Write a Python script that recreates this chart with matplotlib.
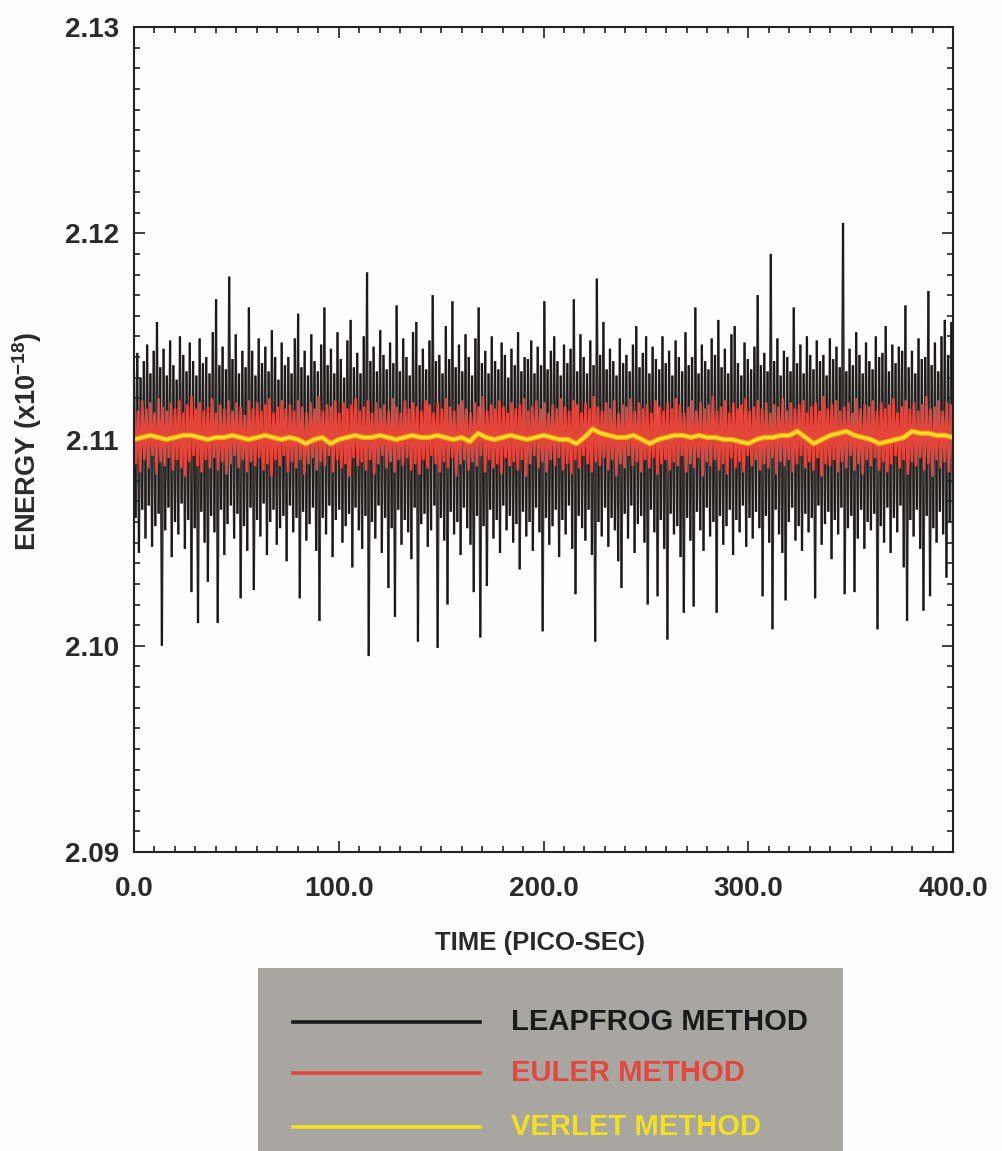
import numpy as np
import matplotlib
matplotlib.use("Agg")
import matplotlib.pyplot as plt
from matplotlib.patches import Rectangle
from matplotlib.lines import Line2D
from matplotlib.collections import LineCollection

plt.rcParams["font.family"] = ["Liberation Sans", "DejaVu Sans"]
plt.rcParams["font.weight"] = "bold"
plt.rcParams["mathtext.fontset"] = "custom"
plt.rcParams["mathtext.bf"] = "Liberation Sans:bold"
plt.rcParams["mathtext.rm"] = "Liberation Sans:bold"
plt.rcParams["mathtext.default"] = "bf"
# keep every vertex of the dense oscillating traces
plt.rcParams["path.simplify"] = False

# ---------------------------------------------------------------------------
# Total energy (x10^-18 J) over 0-400 ps for three integrators.
# Each oscillating trace is stored as its alternating upper / lower excursions.
# ---------------------------------------------------------------------------
leapfrog_high = [
    2.1133, 2.1142, 2.1130, 2.1138, 2.1146, 2.1132, 2.1143, 2.1157, 2.1135, 2.1144,
    2.1131, 2.1148, 2.1136, 2.1129, 2.1150, 2.1141, 2.1133, 2.1147, 2.1138, 2.1131,
    2.1149, 2.1137, 2.1140, 2.1132, 2.1152, 2.1168, 2.1136, 2.1145, 2.1134, 2.1179,
    2.1139, 2.1151, 2.1132, 2.1143, 2.1135, 2.1164, 2.1143, 2.1131, 2.1149, 2.1137,
    2.1145, 2.1133, 2.1153, 2.1140, 2.1129, 2.1147, 2.1136, 2.1140, 2.1132, 2.1149,
    2.1161, 2.1135, 2.1143, 2.1131, 2.1151, 2.1138, 2.1133, 2.1146, 2.1164, 2.1136,
    2.1144, 2.1132, 2.1152, 2.1139, 2.1130, 2.1148, 2.1158, 2.1135, 2.1142, 2.1132,
    2.1150, 2.1181, 2.1138, 2.1145, 2.1133, 2.1153, 2.1141, 2.1134, 2.1147, 2.1137,
    2.1165, 2.1133, 2.1149, 2.1140, 2.1131, 2.1152, 2.1157, 2.1136, 2.1144, 2.1134,
    2.1148, 2.1170, 2.1138, 2.1141, 2.1132, 2.1155, 2.1139, 2.1167, 2.1135, 2.1146,
    2.1133, 2.1151, 2.1140, 2.1131, 2.1149, 2.1164, 2.1137, 2.1143, 2.1132, 2.1150,
    2.1138, 2.1134, 2.1147, 2.1141, 2.1130, 2.1144, 2.1136, 2.1152, 2.1133, 2.1140,
    2.1139, 2.1148, 2.1132, 2.1145, 2.1136, 2.1167, 2.1134, 2.1143, 2.1150, 2.1138,
    2.1131, 2.1146, 2.1137, 2.1144, 2.1168, 2.1133, 2.1151, 2.1140, 2.1132, 2.1148,
    2.1136, 2.1178, 2.1141, 2.1157, 2.1134, 2.1144, 2.1138, 2.1131, 2.1149, 2.1137,
    2.1141, 2.1133, 2.1146, 2.1155, 2.1135, 2.1142, 2.1150, 2.1132, 2.1145, 2.1139,
    2.1134, 2.1150, 2.1137, 2.1143, 2.1131, 2.1148, 2.1140, 2.1133, 2.1152, 2.1136,
    2.1140, 2.1164, 2.1132, 2.1146, 2.1138, 2.1134, 2.1149, 2.1141, 2.1158, 2.1135,
    2.1144, 2.1132, 2.1151, 2.1155, 2.1137, 2.1131, 2.1147, 2.1139, 2.1134, 2.1145,
    2.1170, 2.1136, 2.1142, 2.1133, 2.1190, 2.1138, 2.1149, 2.1131, 2.1143, 2.1140,
    2.1133, 2.1164, 2.1137, 2.1146, 2.1132, 2.1150, 2.1141, 2.1134, 2.1148, 2.1138,
    2.1141, 2.1131, 2.1149, 2.1139, 2.1145, 2.1135, 2.1205, 2.1133, 2.1144, 2.1136,
    2.1152, 2.1141, 2.1132, 2.1147, 2.1138, 2.1134, 2.1150, 2.1140, 2.1142, 2.1155,
    2.1133, 2.1146, 2.1137, 2.1145, 2.1143, 2.1165, 2.1135, 2.1143, 2.1132, 2.1149,
    2.1139, 2.1140, 2.1172, 2.1136, 2.1147, 2.1133, 2.1150, 2.1158, 2.1141, 2.1157,
]
leapfrog_low = [
    2.1062, 2.1045, 2.1066, 2.1052, 2.1068, 2.1048, 2.1058, 2.1064, 2.1000, 2.1056,
    2.1067, 2.1043, 2.1060, 2.1054, 2.1069, 2.1047, 2.1061, 2.1026, 2.1057, 2.1011,
    2.1065, 2.1050, 2.1031, 2.1063, 2.1055, 2.1011, 2.1066, 2.1044, 2.1059, 2.1068,
    2.1052, 2.1064, 2.1023, 2.1058, 2.1046, 2.1067, 2.1027, 2.1061, 2.1053, 2.1069,
    2.1044, 2.1060, 2.1066, 2.1049, 2.1057, 2.1063, 2.1041, 2.1068, 2.1055, 2.1062,
    2.1023, 2.1065, 2.1051, 2.1059, 2.1067, 2.1046, 2.1012, 2.1062, 2.1054, 2.1068,
    2.1043, 2.1061, 2.1066, 2.1050, 2.1058, 2.1064, 2.1038, 2.1067, 2.1056, 2.1047,
    2.1063, 2.0995, 2.1060, 2.1052, 2.1068, 2.1045, 2.1062, 2.1028, 2.1057, 2.1014,
    2.1066, 2.1049, 2.1061, 2.1055, 2.1042, 2.1067, 2.1002, 2.1059, 2.1064, 2.1048,
    2.1056, 2.1068, 2.0999, 2.1062, 2.1051, 2.1020, 2.1065, 2.1054, 2.1060, 2.1044,
    2.1067, 2.1057, 2.1049, 2.1026, 2.1063, 2.1004, 2.1058, 2.1029, 2.1066, 2.1052,
    2.1061, 2.1045, 2.1068, 2.1056, 2.1063, 2.1050, 2.1059, 2.1037, 2.1065, 2.1053,
    2.1060, 2.1046, 2.1067, 2.1055, 2.1007, 2.1062, 2.1049, 2.1058, 2.1066, 2.1043,
    2.1061, 2.1054, 2.1068, 2.1047, 2.1025, 2.1063, 2.1057, 2.1051, 2.1066, 2.1044,
    2.1002, 2.1060, 2.1053, 2.1067, 2.1048, 2.1062, 2.1056, 2.1041, 2.1028, 2.1064,
    2.1052, 2.1068, 2.1045, 2.1059, 2.1063, 2.1050, 2.1020, 2.1066, 2.1055, 2.1024,
    2.1061, 2.1047, 2.1003, 2.1064, 2.1054, 2.1058, 2.1043, 2.1016, 2.1062, 2.1051,
    2.1019, 2.1065, 2.1056, 2.1046, 2.1067, 2.1053, 2.1060, 2.1016, 2.1063, 2.1049,
    2.1058, 2.1066, 2.1044, 2.1061, 2.1055, 2.1068, 2.1048, 2.1062, 2.1052, 2.1065,
    2.1057, 2.1024, 2.1063, 2.1050, 2.1008, 2.1066, 2.1054, 2.1045, 2.1022, 2.1060,
    2.1067, 2.1051, 2.1058, 2.1046, 2.1064, 2.1055, 2.1062, 2.1023, 2.1068, 2.1049,
    2.1059, 2.1065, 2.1042, 2.1061, 2.1054, 2.1067, 2.1025, 2.1057, 2.1063, 2.1026,
    2.1052, 2.1066, 2.1047, 2.1060, 2.1056, 2.1064, 2.1008, 2.1058, 2.1050, 2.1067,
    2.1045, 2.1062, 2.1055, 2.1068, 2.1038, 2.1012, 2.1061, 2.1053, 2.1066, 2.1047,
    2.1017, 2.1063, 2.1024, 2.1057, 2.1050, 2.1065, 2.1054, 2.1033, 2.1060, 2.1040,
]
euler_high = [
    2.1117, 2.1114, 2.1119, 2.1115, 2.1118, 2.1113, 2.1120, 2.1116, 2.1114, 2.1118,
    2.1115, 2.1119, 2.1113, 2.1117, 2.1121, 2.1115, 2.1118, 2.1114, 2.1116, 2.1120,
    2.1113, 2.1117, 2.1115, 2.1119, 2.1114, 2.1118, 2.1116, 2.1112, 2.1119, 2.1115,
    2.1118, 2.1114, 2.1117, 2.1120, 2.1113, 2.1116, 2.1119, 2.1115, 2.1117, 2.1114,
    2.1119, 2.1116, 2.1113, 2.1118, 2.1115, 2.1121, 2.1114, 2.1117, 2.1116, 2.1119,
    2.1113, 2.1118, 2.1115, 2.1117, 2.1120, 2.1114, 2.1116, 2.1119, 2.1113, 2.1118,
    2.1115, 2.1117, 2.1114, 2.1120, 2.1116, 2.1113, 2.1119, 2.1115, 2.1118, 2.1116,
    2.1114, 2.1119, 2.1117, 2.1113, 2.1118, 2.1115, 2.1120, 2.1116, 2.1114, 2.1117,
    2.1119, 2.1115, 2.1113, 2.1118, 2.1116, 2.1121, 2.1114, 2.1117, 2.1115, 2.1119,
    2.1116, 2.1113, 2.1118, 2.1115, 2.1117, 2.1120, 2.1114, 2.1116, 2.1119, 2.1115,
    2.1118, 2.1113, 2.1117, 2.1115, 2.1120, 2.1116, 2.1114, 2.1119, 2.1117, 2.1113,
    2.1118, 2.1115, 2.1121, 2.1116, 2.1114, 2.1118, 2.1115, 2.1119, 2.1113, 2.1117,
    2.1116, 2.1120, 2.1114, 2.1118, 2.1115, 2.1117, 2.1113, 2.1119, 2.1116, 2.1114,
    2.1118, 2.1115, 2.1120, 2.1117, 2.1113, 2.1116, 2.1119, 2.1114, 2.1118, 2.1115,
    2.1117, 2.1121, 2.1114, 2.1116, 2.1119, 2.1113, 2.1118, 2.1115, 2.1117, 2.1120,
    2.1114, 2.1116, 2.1119, 2.1115, 2.1118, 2.1113, 2.1117, 2.1116, 2.1120, 2.1114,
    2.1118, 2.1115, 2.1117, 2.1119, 2.1113, 2.1116, 2.1118, 2.1114, 2.1121, 2.1115,
    2.1117, 2.1119, 2.1114, 2.1116, 2.1118, 2.1113, 2.1120, 2.1115, 2.1117, 2.1116,
    2.1119, 2.1114, 2.1118, 2.1115, 2.1117, 2.1120, 2.1113, 2.1116, 2.1119, 2.1115,
    2.1118, 2.1114, 2.1117, 2.1121, 2.1115, 2.1116, 2.1119, 2.1114, 2.1118, 2.1117,
]
euler_low = [
    2.1088, 2.1084, 2.1090, 2.1086, 2.1092, 2.1083, 2.1089, 2.1087, 2.1091, 2.1085,
    2.1090, 2.1086, 2.1082, 2.1089, 2.1092, 2.1087, 2.1084, 2.1090, 2.1086, 2.1091,
    2.1085, 2.1089, 2.1083, 2.1088, 2.1092, 2.1086, 2.1090, 2.1084, 2.1089, 2.1087,
    2.1091, 2.1085, 2.1088, 2.1082, 2.1090, 2.1087, 2.1092, 2.1084, 2.1089, 2.1086,
    2.1090, 2.1083, 2.1088, 2.1091, 2.1085, 2.1089, 2.1087, 2.1092, 2.1084, 2.1090,
    2.1086, 2.1088, 2.1082, 2.1091, 2.1087, 2.1089, 2.1085, 2.1090, 2.1083, 2.1088,
    2.1092, 2.1086, 2.1089, 2.1084, 2.1090, 2.1087, 2.1091, 2.1085, 2.1088, 2.1083,
    2.1090, 2.1086, 2.1092, 2.1088, 2.1084, 2.1089, 2.1086, 2.1091, 2.1082, 2.1088,
    2.1090, 2.1085, 2.1089, 2.1087, 2.1092, 2.1084, 2.1090, 2.1086, 2.1088, 2.1083,
    2.1091, 2.1087, 2.1089, 2.1085, 2.1090, 2.1082, 2.1088, 2.1092, 2.1086, 2.1089,
    2.1084, 2.1090, 2.1087, 2.1091, 2.1085, 2.1088, 2.1083, 2.1090, 2.1086, 2.1092,
    2.1088, 2.1084, 2.1089, 2.1087, 2.1091, 2.1085, 2.1090, 2.1082, 2.1088, 2.1086,
    2.1092, 2.1087, 2.1089, 2.1084, 2.1090, 2.1086, 2.1091, 2.1083, 2.1088, 2.1090,
    2.1085, 2.1089, 2.1087, 2.1092, 2.1084, 2.1088, 2.1086, 2.1091, 2.1082, 2.1089,
    2.1087, 2.1090, 2.1085, 2.1088, 2.1083, 2.1091, 2.1086, 2.1089, 2.1084, 2.1092,
    2.1087, 2.1090, 2.1085, 2.1088, 2.1086, 2.1091, 2.1083, 2.1089, 2.1087, 2.1090,
    2.1084, 2.1088, 2.1092, 2.1086, 2.1089, 2.1085, 2.1091, 2.1082, 2.1088, 2.1087,
    2.1090, 2.1084, 2.1089, 2.1086, 2.1092, 2.1085, 2.1088, 2.1083, 2.1090, 2.1087,
    2.1091, 2.1085, 2.1089, 2.1084, 2.1088, 2.1092, 2.1086, 2.1090, 2.1083, 2.1089,
    2.1087, 2.1091, 2.1085, 2.1088, 2.1082, 2.1090, 2.1086, 2.1089, 2.1084, 2.1088,
]
# Verlet energy sampled every 4 ps
verlet = [
    2.1100, 2.1101, 2.1102, 2.1101, 2.1100, 2.1101, 2.1102, 2.1102, 2.1101, 2.1100,
    2.1101, 2.1101, 2.1102, 2.1101, 2.1100, 2.1101, 2.1102, 2.1101, 2.1100, 2.1101,
    2.1100, 2.1098, 2.1100, 2.1101, 2.1098, 2.1100, 2.1101, 2.1102, 2.1101, 2.1101,
    2.1102, 2.1101, 2.1100, 2.1101, 2.1102, 2.1101, 2.1101, 2.1102, 2.1101, 2.1100,
    2.1101, 2.1099, 2.1103, 2.1101, 2.1100, 2.1101, 2.1102, 2.1101, 2.1100, 2.1101,
    2.1102, 2.1101, 2.1100, 2.1100, 2.1098, 2.1101, 2.1105, 2.1103, 2.1102, 2.1101,
    2.1101, 2.1102, 2.1100, 2.1098, 2.1100, 2.1101, 2.1102, 2.1102, 2.1101, 2.1102,
    2.1101, 2.1101, 2.1100, 2.1100, 2.1099, 2.1098, 2.1100, 2.1101, 2.1101, 2.1102,
    2.1102, 2.1104, 2.1101, 2.1098, 2.1100, 2.1102, 2.1103, 2.1104, 2.1102, 2.1101,
    2.1100, 2.1098, 2.1099, 2.1100, 2.1101, 2.1104, 2.1103, 2.1103, 2.1102, 2.1102,
    2.1101,
]

x_ticks = [0.0, 100.0, 200.0, 300.0, 400.0]
y_ticks = [2.09, 2.10, 2.11, 2.12, 2.13]
series_names = ["LEAPFROG METHOD", "EULER METHOD", "VERLET METHOD"]

T_END = 400.0
BLACK = "#140f0f"
RED = "#e4463c"
YELLOW = "#f4e11e"
ORANGE = "#f2a11c"


def zigzag(high, low):
    vals = np.column_stack([high, low]).ravel()
    return np.linspace(0.0, T_END, len(vals)), vals


fig = plt.figure(figsize=(10.02, 11.51), dpi=100, facecolor="#fdfdfd")
ax = fig.add_axes([134 / 1002, 1 - 852 / 1151, 819 / 1002, 825 / 1151])
ax.set_facecolor("#fdfdfd")

t_lf, e_lf = zigzag(leapfrog_high, leapfrog_low)
t_eu, e_eu = zigzag(euler_high, euler_low)
t_vl = np.linspace(0.0, T_END, len(verlet))

# leapfrog drawn segment by segment so overlapping strokes build up a dark core
pts = np.column_stack([t_lf, e_lf])
segs = np.stack([pts[:-1], pts[1:]], axis=1)
ax.add_collection(LineCollection(segs, colors=BLACK, linewidths=1.6, alpha=0.8,
                                 zorder=1))
ax.plot(t_eu, e_eu, color=RED, lw=1.9, zorder=2, solid_joinstyle="miter")
ax.plot(t_vl, verlet, color=ORANGE, lw=3.8, zorder=3, solid_capstyle="butt")
ax.plot(t_vl, verlet, color=YELLOW, lw=2.0, zorder=4, solid_capstyle="butt")

ax.set_xlim(0, T_END)
ax.set_ylim(2.09, 2.13)
ax.set_xticks(x_ticks)
ax.set_xticklabels([f"{v:.1f}" for v in x_ticks])
ax.set_yticks(y_ticks)
ax.set_yticklabels([f"{v:.2f}" for v in y_ticks])
ax.set_xticks(np.arange(0, 401, 10), minor=True)
ax.set_yticks(np.arange(2.09, 2.1301, 0.001), minor=True)

for s in ax.spines.values():
    s.set_linewidth(1.5)
    s.set_color("#222222")
    s.set_zorder(6)

ax.tick_params(which="both", direction="in", top=True, right=True,
               color="#222222", width=1.2)
ax.tick_params(which="major", length=8)
ax.tick_params(which="minor", length=4.5)
ax.tick_params(axis="x", which="major", labelsize=20, pad=17, labelcolor="#2a2a2a")
ax.tick_params(axis="y", which="major", labelsize=20, pad=11, labelcolor="#2a2a2a")
for lab in ax.get_xticklabels() + ax.get_yticklabels():
    lab.set_fontweight("bold")

fig.text(540 / 1002, 1 - 943 / 1151, "TIME (PICO-SEC)", ha="center", va="center",
         fontsize=18.5, fontweight="bold", color="#2a2a2a")
fig.text(27 / 1002, 1 - 441 / 1151, r"ENERGY (x10$^{\mathbf{-18}}$)", rotation=90,
         ha="center", va="center", fontsize=19.5, fontweight="bold", color="#2a2a2a")

# legend panel
fig.add_artist(Rectangle((258 / 1002, 0), (843 - 258) / 1002, (1151 - 968) / 1151,
                         transform=fig.transFigure, facecolor="#a8a6a1",
                         edgecolor="none", zorder=0))
legend_rows = [1022, 1073, 1127]
legend_colors = ["#1a1a1a", RED, YELLOW]
for name, color, yp in zip(series_names, legend_colors, legend_rows):
    yf = 1 - yp / 1151
    fig.add_artist(Line2D([293 / 1002, 480 / 1002], [yf, yf], transform=fig.transFigure,
                          color=color, lw=2.6))
    fig.text(511 / 1002, yf, name, ha="left", va="center", fontsize=21,
             fontweight="bold", color=color)

fig.savefig("out.png", dpi=100, facecolor=fig.get_facecolor())
